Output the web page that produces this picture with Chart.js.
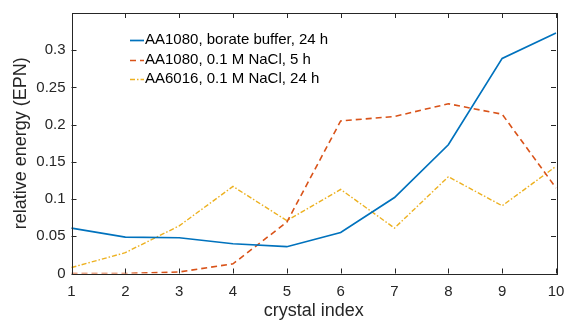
<!DOCTYPE html>
<html>
<head>
<meta charset="utf-8">
<script src="https://cdn.jsdelivr.net/npm/chart.js@4"></script>
<style>
  html, body { margin: 0; padding: 0; background: #fff; }
  #wrap { width: 566px; height: 322px; }
</style>
</head>
<body>
<div id="wrap"><canvas id="c" width="566" height="322"></canvas></div>
<script>
// crystal index categories
const crystals = ['1', '2', '3', '4', '5', '6', '7', '8', '9', '10'];
const yTicks = [0, 0.05, 0.1, 0.15, 0.2, 0.25, 0.3];

// relative energy (EPN) per series
const borate24h = [0.061, 0.049, 0.048, 0.040, 0.036, 0.055, 0.102, 0.173, 0.289, 0.323];
const nacl5h    = [0.000, 0.000, 0.002, 0.013, 0.069, 0.205, 0.211, 0.228, 0.214, 0.115];
const aa6016    = [0.008, 0.028, 0.064, 0.117, 0.071, 0.113, 0.061, 0.130, 0.091, 0.144];

const FONT = "'Liberation Sans', Arial, Helvetica, sans-serif";
const AXIS_COLOR = '#262626';

// MATLAB style box + inward ticks on all four sides
const boxAxes = {
  id: 'boxAxes',
  afterDatasetsDraw(chart) {
    const { ctx, chartArea: a, scales } = chart;
    const len = 5;
    ctx.save();
    ctx.strokeStyle = AXIS_COLOR;
    ctx.lineWidth = 1;
    ctx.beginPath();
    scales.x.ticks.forEach((t, i) => {
      const px = Math.round(scales.x.getPixelForTick(i)) + 0.5;
      ctx.moveTo(px, a.bottom); ctx.lineTo(px, a.bottom - len);
      ctx.moveTo(px, a.top); ctx.lineTo(px, a.top + len);
    });
    scales.y.ticks.forEach(t => {
      const py = Math.round(scales.y.getPixelForValue(t.value)) + 0.5;
      ctx.moveTo(a.left, py); ctx.lineTo(a.left + len, py);
      ctx.moveTo(a.right, py); ctx.lineTo(a.right - len, py);
    });
    ctx.stroke();
    ctx.strokeRect(Math.round(a.left) + 0.5, Math.round(a.top) + 0.5,
      Math.round(a.right - a.left), Math.round(a.bottom - a.top));
    ctx.restore();
  }
};

// legend inside the axes, no frame
const lineLegend = {
  id: 'lineLegend',
  afterDraw(chart) {
    const { ctx } = chart;
    const x0 = 130, x1 = 144, rows = [40, 59.5, 79];
    ctx.save();
    ctx.font = '15px ' + FONT;
    ctx.textBaseline = 'middle';
    chart.data.datasets.forEach((ds, i) => {
      const y = Math.round(rows[i]) + 0.5;
      ctx.strokeStyle = ds.borderColor;
      ctx.lineWidth = ds.borderWidth;
      ctx.setLineDash(ds.borderDash || []);
      ctx.beginPath();
      ctx.moveTo(x0, y); ctx.lineTo(x1, y);
      ctx.stroke();
      ctx.fillStyle = '#000';
      ctx.fillText(ds.label, x1 + 1, rows[i]);
    });
    ctx.restore();
  }
};

new Chart(document.getElementById('c'), {
  type: 'line',
  data: {
    labels: crystals,
    datasets: [
      { label: 'AA1080, borate buffer, 24 h', data: borate24h, borderColor: '#0072BD', borderWidth: 1.7, pointRadius: 0, tension: 0 },
      { label: 'AA1080, 0.1 M NaCl, 5 h', data: nacl5h, borderColor: '#D95319', borderWidth: 1.6, borderDash: [6, 4], pointRadius: 0, tension: 0 },
      { label: 'AA6016, 0.1 M NaCl, 24 h', data: aa6016, borderColor: '#EDB120', borderWidth: 1.4, borderDash: [5, 2, 1.5, 2], pointRadius: 0, tension: 0 },
    ],
  },
  options: {
    responsive: false,
    animation: false,
    devicePixelRatio: 1,
    layout: { padding: { top: 13, right: 10, left: 0, bottom: 0 } },
    plugins: { legend: { display: false }, tooltip: { enabled: false } },
    scales: {
      x: {
        offset: false,
        grid: { display: false, drawTicks: false },
        border: { display: false },
        ticks: { color: AXIS_COLOR, font: { family: FONT, size: 15 }, padding: 9, maxRotation: 0, autoSkip: false },
        title: { display: true, text: 'crystal index', color: AXIS_COLOR, font: { family: FONT, size: 18 }, padding: { top: 0, bottom: 0 } },
        afterFit(s) { s.height = 48.5; s.paddingLeft = 0; s.paddingRight = 0; },
      },
      y: {
        min: 0,
        max: 0.35,
        grid: { display: false, drawTicks: false },
        border: { display: false },
        afterBuildTicks(s) { s.ticks = yTicks.map(v => ({ value: v })); },
        ticks: { color: AXIS_COLOR, font: { family: FONT, size: 15 }, padding: 6, callback: v => String(+v.toFixed(2)) },
        title: { display: true, text: 'relative energy (EPN)', color: AXIS_COLOR, font: { family: FONT, size: 18 }, padding: { top: 10, bottom: 0 } },
        afterFit(s) { s.width = 71.5; s.paddingTop = 0; s.paddingBottom = 0; },
      },
    },
  },
  plugins: [boxAxes, lineLegend],
});
</script>
</body>
</html>
